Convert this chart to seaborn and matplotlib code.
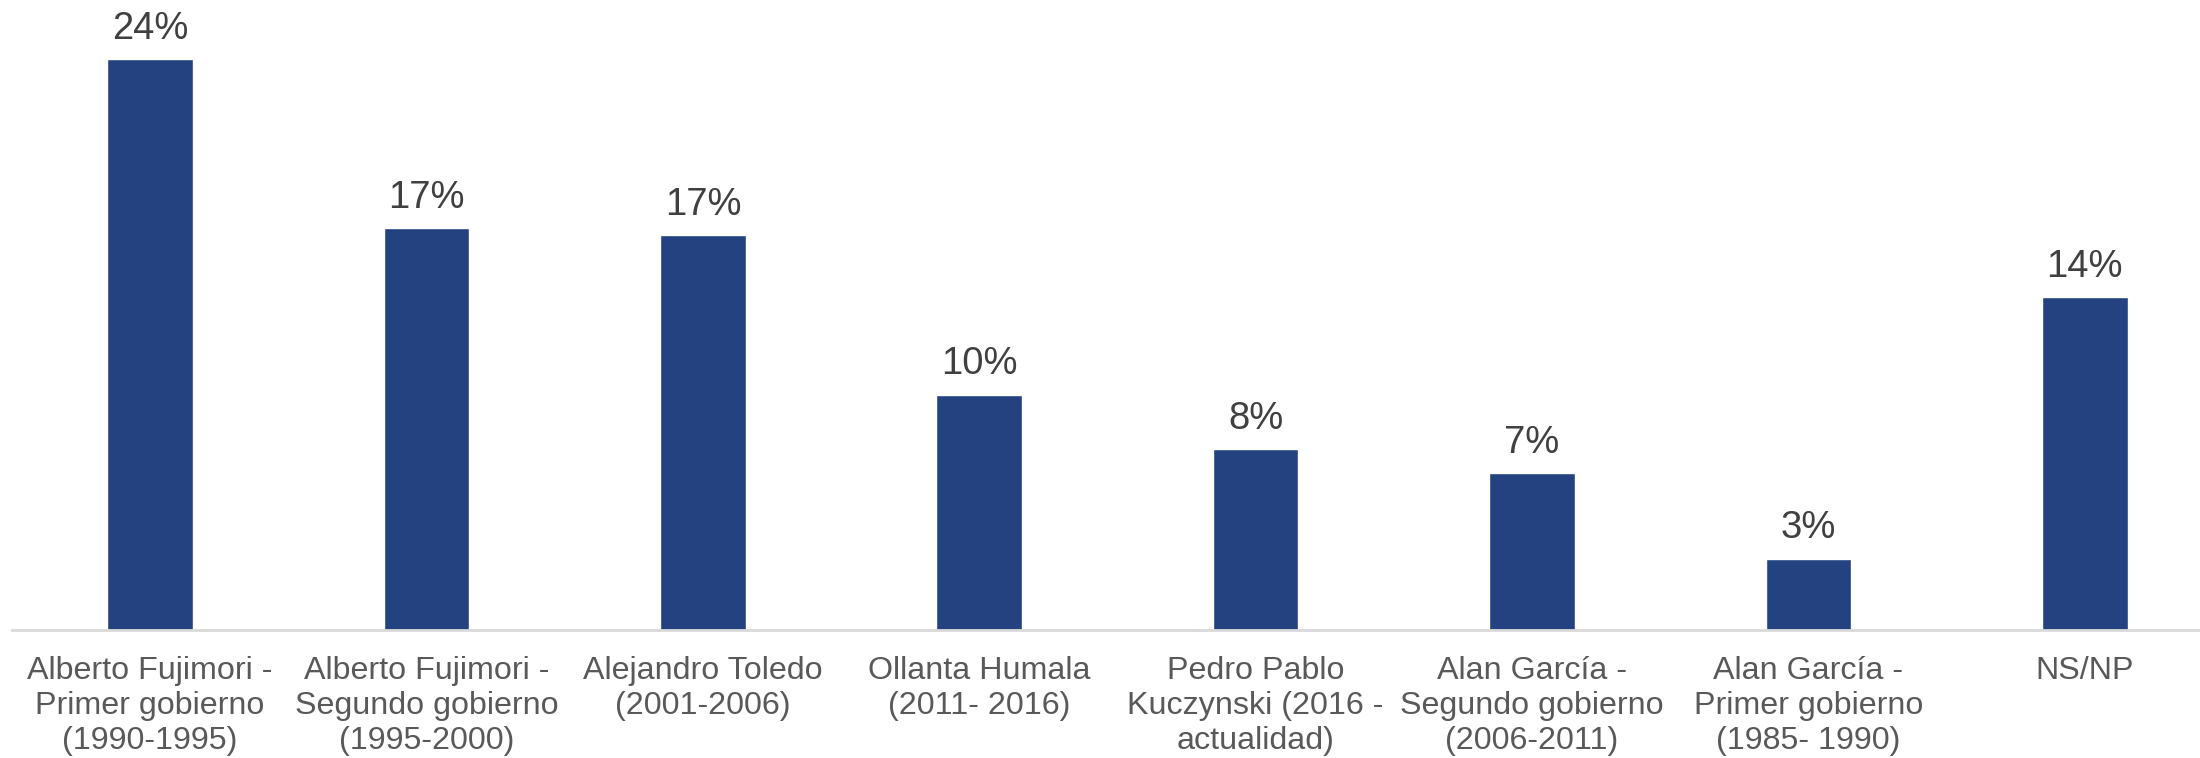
import matplotlib
matplotlib.use("Agg")
import matplotlib.pyplot as plt
import seaborn as sns
import pandas as pd

# Data
categories = [
    "Alberto Fujimori -\nPrimer gobierno\n(1990-1995)",
    "Alberto Fujimori -\nSegundo gobierno\n(1995-2000)",
    "Alejandro Toledo\n(2001-2006)",
    "Ollanta Humala\n(2011- 2016)",
    "Pedro Pablo\nKuczynski (2016 -\nactualidad)",
    "Alan García -\nSegundo gobierno\n(2006-2011)",
    "Alan García -\nPrimer gobierno\n(1985- 1990)",
    "NS/NP",
]
values = [24.0, 16.9, 16.6, 9.9, 7.6, 6.6, 3.0, 14.0]

df = pd.DataFrame({"cat": categories, "val": values})

sns.set_theme(style="white")
plt.rcParams["font.family"] = ["Liberation Sans", "DejaVu Sans"]

fig = plt.figure(figsize=(22, 7.58), dpi=100)
ax = fig.add_axes([12 / 2200, 0.169, 1 - 12 / 2200, 0.831])

sns.barplot(data=df, x="cat", y="val", color="#254280", width=0.31,
            saturation=1, ax=ax)

for p, v in zip(ax.patches, values):
    ax.annotate(f"{v:.0f}%", (p.get_x() + p.get_width() / 2, p.get_height()),
                xytext=(0, 9), textcoords="offset points",
                ha="center", va="bottom", fontsize=27.5, color="#404040")

ax.set_xlim(-0.5, 7.417)
ax.set_ylim(0, 26.5)
ax.set_xlabel("")
ax.set_ylabel("")
ax.set_yticks([])
for s in ["top", "right", "left"]:
    ax.spines[s].set_visible(False)
ax.spines["bottom"].set_color("#D9D9D9")
ax.spines["bottom"].set_linewidth(2)
ax.tick_params(axis="x", length=0, pad=19, labelsize=23.2, labelcolor="#595959")
for t in ax.get_xticklabels():
    t.set_linespacing(1.22)

fig.savefig("out.png", dpi=100)
